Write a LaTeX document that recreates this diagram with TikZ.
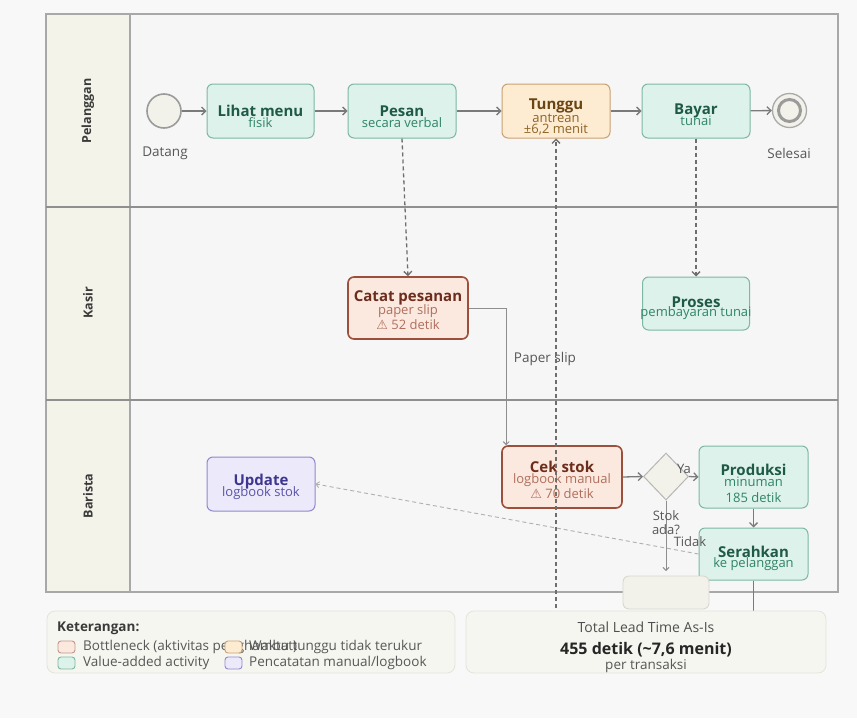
\documentclass[tikz,border=0pt]{standalone}
\usepackage{fontspec}
\setmainfont{Open Sans}
\newfontfamily\symfont{DejaVu Sans}
\usetikzlibrary{arrows.meta,shapes.geometric}

\definecolor{pagebg}{HTML}{F8F8F8}
\definecolor{poolbg}{HTML}{F6F6F6}
\definecolor{poolline}{HTML}{A8A8A8}
\definecolor{headbg}{HTML}{F3F3EA}
\definecolor{flowc}{HTML}{7A7A7A}
\definecolor{inkc}{HTML}{3A3A3A}
% value-added (green)
\definecolor{gfill}{HTML}{DDF2EA}
\definecolor{gline}{HTML}{7DB8A2}
\definecolor{gtext}{HTML}{1F5A46}
\definecolor{gsub}{HTML}{2F8467}
% waiting (orange)
\definecolor{ofill}{HTML}{FDEBD2}
\definecolor{oline}{HTML}{C9A273}
\definecolor{otext}{HTML}{6A4513}
\definecolor{osub}{HTML}{8F6425}
% bottleneck (red)
\definecolor{rfill}{HTML}{FBE8DF}
\definecolor{rline}{HTML}{9C4F3A}
\definecolor{rtext}{HTML}{6C2D1C}
\definecolor{rsub}{HTML}{B06F5C}
% manual logbook (purple)
\definecolor{pfill}{HTML}{EBE9FA}
\definecolor{pline}{HTML}{8F89CF}
\definecolor{ptext}{HTML}{3D358F}
\definecolor{psub}{HTML}{5A54A8}
% neutral shapes
\definecolor{nfill}{HTML}{F2F2EA}
\definecolor{nline}{HTML}{D8D8CE}

\tikzset{
  task/.style={rounded corners=6pt, line width=1pt, inner sep=0pt},
  gtask/.style={task, fill=gfill, draw=gline},
  otask/.style={task, fill=ofill, draw=oline},
  rtask/.style={task, fill=rfill, draw=rline, line width=1.6pt},
  ptask/.style={task, fill=pfill, draw=pline},
  ttl/.style={inner sep=0pt, font=\fontsize{15}{17}\selectfont\bfseries},
  sub/.style={inner sep=0pt, font=\fontsize{13}{15}\selectfont},
  flow/.style={draw=flowc, line width=1.3pt, -{Straight Barb[length=4pt,width=8pt]}},
  msg/.style={draw=flowc!90!black, line width=1.3pt, dash pattern=on 4pt off 3pt,
              -{Straight Barb[length=4pt,width=8pt]}},
  softmsg/.style={draw=flowc!60, line width=0.9pt, dash pattern=on 4pt off 3pt,
              -{Straight Barb[length=3pt,width=6pt]}},
  thinflow/.style={draw=flowc!85, line width=0.9pt, -{Straight Barb[length=3pt,width=6pt]}},
  lanelabel/.style={rotate=90, inner sep=0pt, text=inkc, font=\fontsize{12.5}{14}\selectfont\bfseries},
  note/.style={inner sep=0pt, text=inkc!85, font=\fontsize{13.5}{15}\selectfont},
  small/.style={inner sep=0pt, text=inkc!85, font=\fontsize{13}{15}\selectfont},
  legtext/.style={inner sep=0pt, anchor=west, text=inkc!85, font=\fontsize{13.5}{15}\selectfont},
  swatch/.style={rounded corners=3pt, line width=0.9pt, minimum width=17pt, minimum height=12pt, inner sep=0pt},
  panel/.style={rounded corners=8pt, fill=nfill!70!white, draw=nline!70!white, line width=0.8pt}
}

\begin{document}
\begin{tikzpicture}[x=1pt,y=-1pt]
\useasboundingbox (0,0) rectangle (857,718);
\fill[pagebg] (0,0) rectangle (857,718);

% ---- pool and lanes ----
\fill[poolbg] (46,14) rectangle (838,592);
\fill[headbg] (46,14) rectangle (130,592);
\draw[poolline, line width=1.2pt] (46,14) rectangle (838,592);
\draw[poolline, line width=1.2pt] (130,14) -- (130,592);
\draw[poolline!85!black, line width=1.4pt] (46,207) -- (838,207);
\draw[poolline!85!black, line width=1.4pt] (46,400) -- (838,400);
\node[lanelabel] (lane1) at (88,111) {Pelanggan};
\node[lanelabel] (lane2) at (88,303) {Kasir};
\node[lanelabel] (lane3) at (88,496) {Barista};

% ---- Pelanggan lane ----
\node[circle, minimum size=34pt, inner sep=0pt, fill=nfill, draw=flowc!75, line width=1.6pt] (start) at (164,111) {};
\node[note] (startlbl) at (165,153) {Datang};

\node[gtask, minimum width=107pt, minimum height=54pt] (lihat) at (260.5,111) {};
\node[ttl, text=gtext] (lihatT) at (260.5,111) {Lihat menu};
\node[sub, text=gsub] (lihatS) at (260.5,123) {fisik};

\node[gtask, minimum width=108pt, minimum height=54pt] (pesan) at (402,111) {};
\node[ttl, text=gtext] (pesanT) at (402,111) {Pesan};
\node[sub, text=gsub] (pesanS) at (402,123) {secara verbal};

\node[otask, minimum width=108pt, minimum height=54pt] (tunggu) at (556,111) {};
\node[ttl, text=otext] (tungguT) at (556,106) {Tunggu};
\node[sub, text=osub] (tungguS) at (556,118) {antrean};
\node[sub, text=osub] (tungguW) at (556,130) {±6,2 menit};

\node[gtask, minimum width=108pt, minimum height=54pt] (bayar) at (696,111) {};
\node[ttl, text=gtext] (bayarT) at (696,111) {Bayar};
\node[sub, text=gsub] (bayarS) at (696,121) {tunai};

\node[circle, minimum size=34pt, inner sep=0pt, fill=nfill, draw=flowc!65, line width=1.3pt] (finish) at (789.5,110.5) {};
\node[circle, minimum size=22pt, inner sep=0pt, draw=flowc!75, line width=3pt] (finishIn) at (789.5,110.5) {};
\node[note] (finishlbl) at (789,153) {Selesai};

% ---- Kasir lane ----
\node[rtask, minimum width=120pt, minimum height=62pt] (catat) at (408,308) {};
\node[ttl, text=rtext] (catatT) at (408,298) {Catat pesanan};
\node[sub, text=rsub] (catatS) at (408,311) {paper slip};
\node[sub, text=rsub] (catatW) at (408,325) {{\symfont ⚠} 52 detik};

\node[gtask, minimum width=107pt, minimum height=53pt] (proses) at (696,303.5) {};
\node[ttl, text=gtext] (prosesT) at (696,302) {Proses};
\node[sub, text=gsub] (prosesS) at (696,313) {pembayaran tunai};

% ---- Barista lane ----
\node[ptask, minimum width=108pt, minimum height=54pt] (update) at (261,484) {};
\node[ttl, text=ptext] (updateT) at (261,482) {Update};
\node[sub, text=psub] (updateS) at (261,493) {logbook stok};

\node[rtask, minimum width=120pt, minimum height=62pt] (cek) at (562,477) {};
\node[ttl, text=rtext] (cekT) at (562,467) {Cek stok};
\node[sub, text=rsub] (cekS) at (562,480) {logbook manual};
\node[sub, text=rsub] (cekW) at (562,494) {{\symfont ⚠} 70 detik};

\node[diamond, minimum width=45pt, minimum height=47pt, inner sep=0pt, fill=nfill, draw=flowc!55, line width=1pt] (dec) at (666,476.5) {};

\node[gtask, minimum width=109pt, minimum height=62pt] (produksi) at (753.5,477) {};
\node[ttl, text=gtext] (produksiT) at (753.5,470) {Produksi};
\node[sub, text=gsub] (produksiS) at (753.5,482) {minuman};
\node[sub, text=gsub] (produksiW) at (753.5,498) {185 detik};

\node[gtask, minimum width=109pt, minimum height=52pt] (serahkan) at (753.5,554) {};
\node[ttl, text=gtext] (serahkanT) at (753.5,552) {Serahkan};
\node[sub, text=gsub] (serahkanS) at (753.5,564) {ke pelanggan};

\node[task, minimum width=86pt, minimum height=33pt, fill=nfill, draw=nline, line width=0.9pt] (blank) at (666,592.5) {};

% ---- sequence flows ----
\draw[flow] (start) -- (lihat);
\draw[flow] (lihat) -- (pesan);
\draw[flow] (pesan) -- (tunggu);
\draw[flow] (tunggu) -- (bayar);
\draw[flow] (bayar) -- (finish);

\draw[msg] (pesan.south) -- (catat.north);
\draw[msg] (bayar.south) -- (proses.north);

\draw[thinflow] (catat.east) -| ([xshift=5pt]cek.north west);
\node[note] (sliplbl) at (545,359) {Paper slip};

\draw[flow] (cek.east) -- (dec.west);
\draw[flow] (dec.east) -- (produksi.west);
\node[small] (yalbl) at (684,469) {Ya};
\draw[flow] (produksi.south) -- (serahkan.north);

\coordinate (noStock) at (666,571);
\draw[thinflow] (dec.south) -- (noStock);
\node[small] (stoklbl) at (666,516) {Stok};
\node[small] (adalbl) at (666,530) {ada?};
\node[small] (tidaklbl) at (690,542) {Tidak};

\draw[softmsg] (serahkan.west) -- (update.east);

\coordinate (queueFoot) at (556,608);
\draw[msg] (queueFoot) -- (tunggu.south);

\coordinate (handFoot) at (753.5,611);
\draw[flowc, line width=1.3pt] (serahkan.south) -- (handFoot);

% ---- legend ----
\draw[panel] (47,611) rectangle (455,673);
\node[inner sep=0pt, anchor=west, text=inkc, font=\fontsize{13.5}{15}\selectfont\bfseries] (legT) at (57,628) {Keterangan:};
\node[swatch, fill=rfill, draw=rline!60] (swR) at (66.5,647) {};
\node[legtext] (legR) at (83,647) {Bottleneck (aktivitas penghambat)};
\node[swatch, fill=ofill, draw=oline] (swO) at (233.5,647) {};
\node[legtext] (legO) at (249,647) {Waktu tunggu tidak terukur};
\node[swatch, fill=gfill, draw=gline] (swG) at (66.5,663) {};
\node[legtext] (legG) at (83,663) {Value-added activity};
\node[swatch, fill=pfill, draw=pline] (swP) at (233.5,663) {};
\node[legtext] (legP) at (249,663) {Pencatatan manual/logbook};

% ---- lead time summary ----
\draw[panel] (466,611) rectangle (826,673);
\node[inner sep=0pt, text=inkc!90, font=\fontsize{14}{16}\selectfont] (totT) at (646,627) {Total Lead Time As-Is};
\node[inner sep=0pt, text=black!85, font=\fontsize{16}{18}\selectfont\bfseries] (totV) at (646,650) {455 detik (\textasciitilde7,6 menit)};
\node[inner sep=0pt, text=inkc!85, font=\fontsize{13.5}{15}\selectfont] (totS) at (646,666) {per transaksi};
\end{tikzpicture}
\end{document}
